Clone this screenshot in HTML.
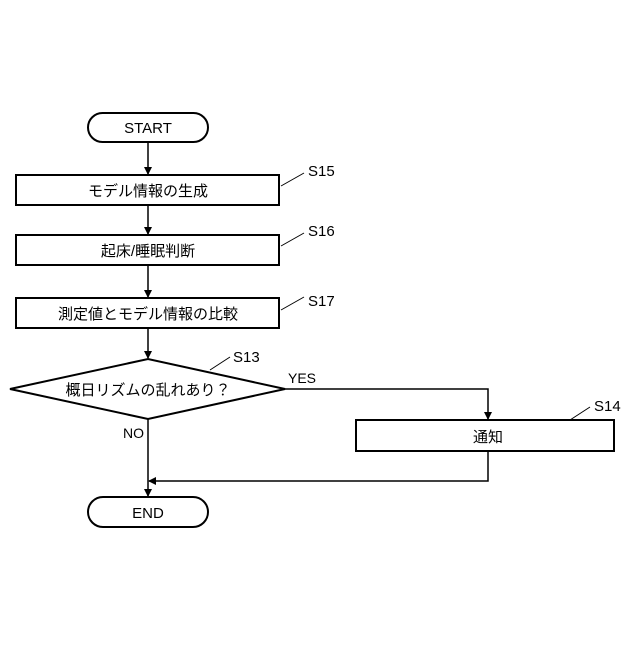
<!DOCTYPE html>
<html><head><meta charset="utf-8"><style>body{margin:0;background:#fff}</style></head>
<body>
<svg width="640" height="640" viewBox="0 0 640 640" xmlns="http://www.w3.org/2000/svg" font-family="Liberation Sans, Noto Sans CJK JP, sans-serif">
<defs><marker id="a" markerWidth="8" markerHeight="8" refX="7" refY="4" orient="auto" markerUnits="userSpaceOnUse"><path d="M0,0 L8,4 L0,8 z" fill="#000"/></marker></defs>
<g stroke="#000" stroke-width="2" fill="none">
<rect x="88" y="113" width="120" height="29" rx="14.5"/>
<rect x="16" y="175" width="263" height="30"/>
<rect x="16" y="235" width="263" height="30"/>
<rect x="16" y="298" width="263" height="30"/>
<polygon points="10,389 148,359 285,389 148,419"/>
<rect x="356" y="420" width="258" height="31"/>
<rect x="88" y="497" width="120" height="30" rx="15"/>
<g stroke-width="1.5">
<line x1="148" y1="142" x2="148" y2="174" marker-end="url(#a)"/>
<line x1="148" y1="205" x2="148" y2="234" marker-end="url(#a)"/>
<line x1="148" y1="265" x2="148" y2="297" marker-end="url(#a)"/>
<line x1="148" y1="328" x2="148" y2="358" marker-end="url(#a)"/>
<line x1="148" y1="419" x2="148" y2="496" marker-end="url(#a)"/>
<polyline points="285,389 488,389 488,419" marker-end="url(#a)"/>
<polyline points="488,451 488,481 149,481" marker-end="url(#a)"/>
</g>
<g stroke-width="1">
<line x1="281" y1="186" x2="304" y2="173"/>
<line x1="281" y1="246" x2="304" y2="233"/>
<line x1="281" y1="310" x2="304" y2="297"/>
<line x1="210" y1="370" x2="230" y2="357"/>
<line x1="570" y1="420" x2="590" y2="407"/>
</g>
</g>
<g font-size="15" fill="#000" text-anchor="middle">
<text x="148" y="133">START</text>
<text x="148" y="196">モデル情報の生成</text>
<text x="148" y="256">起床/睡眠判断</text>
<text x="148" y="319">測定値とモデル情報の比較</text>
<text x="148" y="395">概日リズムの乱れあり？</text>
<text x="488" y="442">通知</text>
<text x="148" y="518">END</text>
</g>
<g font-size="15" fill="#000">
<text x="308" y="176">S15</text>
<text x="308" y="236">S16</text>
<text x="308" y="306">S17</text>
<text x="233" y="362">S13</text>
<text x="594" y="411">S14</text>
<text x="288" y="383" font-size="14">YES</text>
<text x="123" y="438" font-size="14">NO</text>
</g>
</svg>
</body></html>
